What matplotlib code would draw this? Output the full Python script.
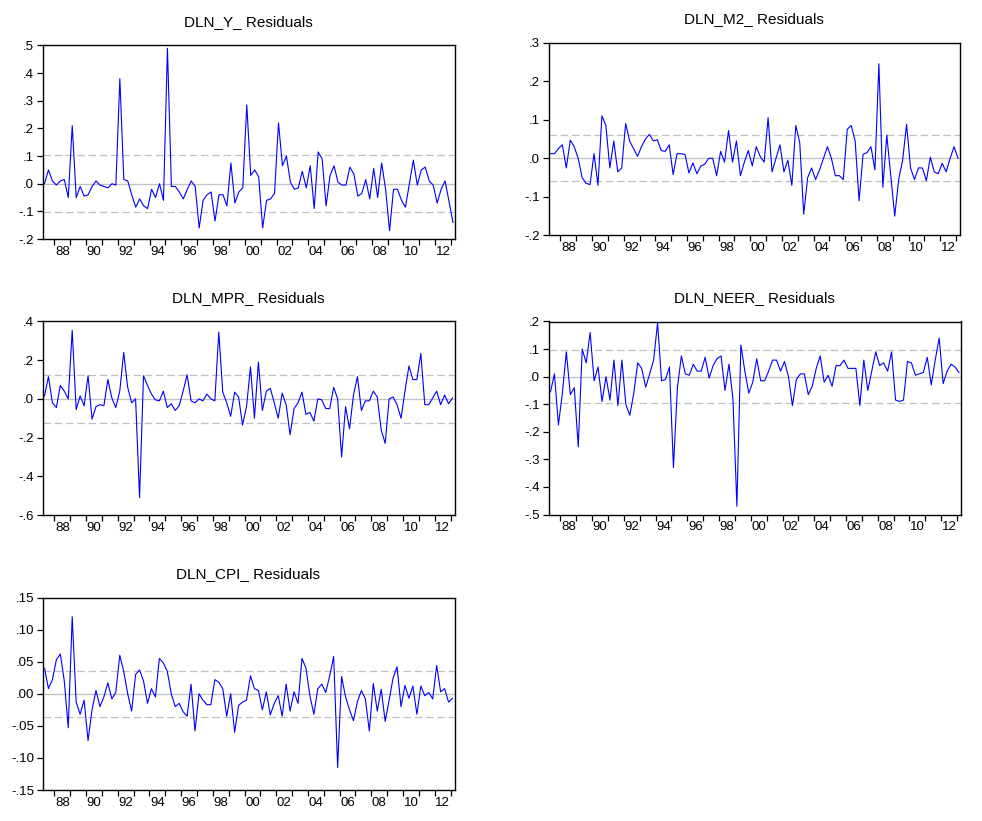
import numpy as np
import matplotlib
matplotlib.use('Agg')
import matplotlib.pyplot as plt
from matplotlib.ticker import FuncFormatter, FixedLocator

plt.rcParams['font.family'] = ['Liberation Sans', 'DejaVu Sans']

# quarterly residuals, 1987Q2 - 2013Q1
start_year = 1987.25
n_obs = 104

res_y = [0.0, 0.05, 0.01, -0.005, 0.01, 0.015, -0.05, 0.21, -0.05, -0.01,
         -0.045, -0.04, -0.01, 0.01, -0.005, -0.01, -0.015, 0.0, -0.005, 0.38,
         0.015, 0.01, -0.04, -0.085, -0.055, -0.08, -0.09, -0.02, -0.05, 0.0,
         -0.06, 0.49, -0.01, -0.01, -0.03, -0.055, -0.02, 0.01, -0.01, -0.16,
         -0.06, -0.04, -0.03, -0.135, -0.04, -0.04, -0.08, 0.075, -0.07, -0.03,
         -0.015, 0.285, 0.03, 0.05, 0.025, -0.16, -0.06, -0.055, -0.035, 0.22,
         0.065, 0.1, 0.005, -0.02, -0.015, 0.045, -0.015, 0.065, -0.09, 0.115,
         0.09, -0.08, 0.03, 0.065, 0.005, -0.005, -0.005, 0.06, 0.035, -0.045,
         -0.035, 0.015, -0.055, 0.055, -0.05, 0.075, -0.02, -0.17, -0.02, -0.02,
         -0.06, -0.085, 0.0, 0.085, -0.005, 0.05, 0.06, 0.01, -0.005, -0.07,
         -0.02, 0.01, -0.065, -0.14]

res_m2 = [0.012, 0.012, 0.025, 0.035, -0.025, 0.047, 0.03, 0.0, -0.05, -0.065,
          -0.068, 0.012, -0.07, 0.11, 0.085, -0.025, 0.045, -0.035, -0.025, 0.09,
          0.045, 0.025, 0.005, 0.03, 0.05, 0.062, 0.045, 0.048, 0.02, 0.018,
          0.035, -0.042, 0.012, 0.012, 0.01, -0.038, -0.012, -0.04, -0.02, -0.015,
          0.0, 0.0, -0.045, 0.018, -0.01, 0.072, -0.01, 0.045, -0.045, -0.01,
          0.02, -0.02, 0.03, 0.005, -0.01, 0.105, -0.035, 0.0, 0.035, -0.035,
          -0.005, -0.07, 0.085, 0.04, -0.145, -0.05, -0.025, -0.055, -0.03, 0.0,
          0.03, 0.0, -0.045, -0.045, -0.055, 0.075, 0.085, 0.045, -0.11, 0.01,
          0.015, 0.03, -0.03, 0.245, -0.075, 0.06, -0.045, -0.15, -0.055, -0.005,
          0.088, -0.025, -0.055, -0.025, -0.025, -0.058, 0.003, -0.035, -0.04, -0.013,
          -0.035, 0.0, 0.03, 0.0]

res_mpr = [0.015, 0.115, -0.02, -0.045, 0.07, 0.04, 0.0, 0.355, -0.055, 0.015,
           -0.035, 0.12, -0.105, -0.04, -0.03, -0.035, 0.1, 0.005, -0.045, 0.04,
           0.24, 0.06, -0.02, 0.0, -0.51, 0.12, 0.07, 0.025, -0.005, -0.01,
           0.04, -0.045, -0.025, -0.06, -0.035, 0.04, 0.125, -0.01, -0.02, 0.0,
           -0.01, 0.025, 0.0, -0.01, 0.345, 0.035, -0.02, -0.09, 0.035, 0.01,
           -0.135, -0.04, 0.165, -0.1, 0.19, -0.06, 0.04, 0.055, -0.02, -0.1,
           0.03, -0.03, -0.185, -0.05, -0.02, 0.035, -0.08, -0.07, -0.115, 0.0,
           -0.005, -0.05, -0.05, 0.06, 0.0, -0.3, -0.04, -0.155, 0.02, 0.115,
           -0.06, -0.01, -0.01, 0.04, 0.01, -0.16, -0.23, 0.0, 0.01, -0.03,
           -0.1, 0.04, 0.17, 0.1, 0.1, 0.235, -0.03, -0.03, 0.005, 0.04,
           -0.03, 0.02, -0.025, 0.005]

res_neer = [-0.055, 0.01, -0.175, -0.06, 0.09, -0.065, -0.04, -0.255, 0.1, 0.05,
            0.16, -0.015, 0.035, -0.09, 0.0, -0.085, 0.06, -0.105, 0.06, -0.1,
            -0.14, -0.06, 0.05, 0.03, -0.038, 0.01, 0.06, 0.195, -0.015, -0.01,
            0.035, -0.33, -0.04, 0.075, 0.01, 0.005, 0.045, 0.02, 0.02, 0.07,
            -0.005, 0.04, 0.065, 0.075, -0.05, 0.045, -0.08, -0.47, 0.115, 0.02,
            -0.06, -0.02, 0.065, -0.015, -0.015, 0.02, 0.06, 0.06, 0.02, 0.055,
            0.0, -0.105, -0.01, 0.01, 0.01, -0.065, -0.035, 0.03, 0.075, -0.02,
            0.005, -0.035, 0.04, 0.04, 0.06, 0.03, 0.03, 0.03, -0.105, 0.06,
            -0.05, 0.02, 0.09, 0.04, 0.05, 0.02, 0.09, -0.085, -0.09, -0.085,
            0.055, 0.05, 0.005, 0.01, 0.015, 0.07, -0.03, 0.06, 0.14, -0.025,
            0.02, 0.045, 0.035, 0.015]

res_cpi = [0.04, 0.008, 0.022, 0.053, 0.062, 0.02, -0.053, 0.12, -0.013, -0.032,
           -0.01, -0.073, -0.025, 0.005, -0.02, -0.005, 0.017, -0.008, 0.002, 0.06,
           0.035, 0.0, -0.027, 0.03, 0.037, 0.02, -0.015, 0.008, -0.005, 0.055,
           0.048, 0.035, 0.0, -0.02, -0.015, -0.028, -0.035, 0.015, -0.058, 0.0,
           -0.01, -0.017, -0.017, 0.022, 0.018, 0.008, -0.035, 0.0, -0.06, -0.018,
           -0.013, -0.01, 0.028, 0.008, 0.005, -0.025, 0.003, -0.033, -0.015, -0.003,
           -0.035, 0.015, -0.027, 0.003, -0.015, 0.055, 0.04, -0.003, -0.032, 0.008,
           0.015, 0.002, 0.028, 0.058, -0.115, 0.027, -0.005, -0.025, -0.042, -0.012,
           0.005, -0.008, -0.058, 0.016, -0.027, 0.007, -0.043, -0.01, 0.025, 0.042,
           -0.02, 0.013, -0.007, 0.012, -0.032, 0.012, -0.003, 0.002, -0.008, 0.044,
           0.003, 0.008, -0.013, -0.007]

titles = ['DLN_Y_ Residuals', 'DLN_M2_ Residuals', 'DLN_MPR_ Residuals',
          'DLN_NEER_ Residuals', 'DLN_CPI_ Residuals']
two_se = [0.103, 0.06, 0.123, 0.097, 0.036]
y_limits = [(-0.2, 0.5), (-0.2, 0.3), (-0.6, 0.4), (-0.5, 0.2), (-0.15, 0.15)]
y_steps = [0.1, 0.1, 0.2, 0.1, 0.05]
y_decimals = [1, 1, 1, 1, 2]
series = [res_y, res_m2, res_mpr, res_neer, res_cpi]

W, H = 982, 821
# panel frames in pixels: left, top, right, bottom
frames = [(42.5, 45.5, 455, 239), (548.5, 42.5, 960, 235.5),
          (42.5, 321.5, 454.5, 515), (548.5, 321.5, 961, 514.5),
          (42.5, 597.5, 454.5, 790)]

dates = start_year + 0.25 * np.arange(n_obs) + 0.125
year_ticks = np.arange(1988, 2014)
label_years = np.arange(1988, 2013, 2)


def fmt(dec):
    def f(v, pos):
        v = round(v, dec) + 0.0
        s = f'{v:.{dec}f}'
        return s.replace('0.', '.', 1)
    return FuncFormatter(f)


fig = plt.figure(figsize=(W / 100, H / 100), dpi=100)

for k in range(5):
    l, t, r, b = frames[k]
    ax = fig.add_axes([l / W, 1 - b / H, (r - l) / W, (b - t) / H])
    ax.axhline(0, color='#c0c0c0', lw=0.9, zorder=1)
    ax.axhline(two_se[k], color='#c0c0c0', lw=0.9, ls=(0, (6, 3)), zorder=1)
    ax.axhline(-two_se[k], color='#c0c0c0', lw=0.9, ls=(0, (6, 3)), zorder=1)
    ax.plot(dates, series[k], color='#0000ff', lw=0.8, zorder=3)

    ax.set_xlim(start_year, start_year + 0.25 * n_obs)
    lo, hi = y_limits[k]
    ax.set_ylim(lo, hi)
    ax.set_yticks(np.round(np.arange(lo, hi + 1e-9, y_steps[k]), 3))
    ax.yaxis.set_major_formatter(fmt(y_decimals[k]))

    ax.xaxis.set_major_locator(FixedLocator(year_ticks))
    ax.xaxis.set_minor_locator(FixedLocator(label_years + 0.5))
    ax.xaxis.set_major_formatter(FuncFormatter(lambda v, p: ''))
    ax.xaxis.set_minor_formatter(FuncFormatter(lambda v, p: f'{int(v) % 100:02d}'))
    ax.tick_params(axis='x', which='major', length=4, width=0.9, direction='out')
    ax.tick_params(axis='x', which='minor', length=0, pad=5, labelsize=9.5)
    ax.tick_params(axis='y', length=4, width=0.9, direction='out', labelsize=9.5, pad=2)
    for sp in ax.spines.values():
        sp.set_linewidth(1.0)
        sp.set_color('black')
    ax.set_title(titles[k], fontsize=11, pad=14)

fig.savefig('out.png', dpi=100)
